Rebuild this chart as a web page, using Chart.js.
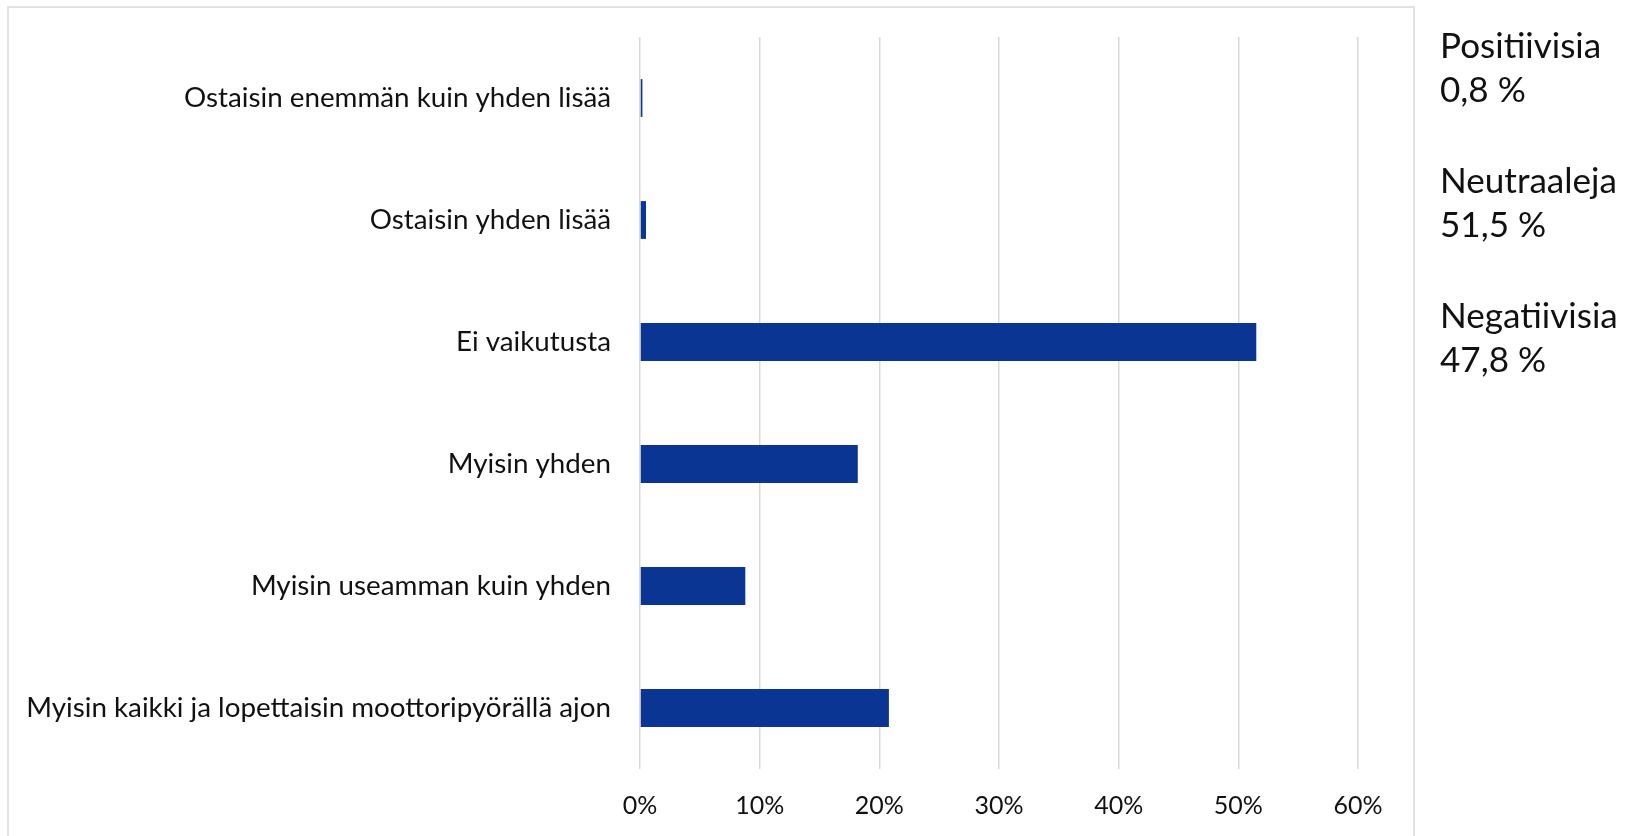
<!DOCTYPE html>
<html>
<head>
<meta charset="utf-8">
<script src="https://cdn.jsdelivr.net/npm/chart.js@4.4.1/dist/chart.umd.min.js"></script>
<style>
  html, body { margin: 0; padding: 0; background: #ffffff; }
  #wrap { width: 1634px; height: 836px; position: relative; }
</style>
</head>
<body>
<div id="wrap"><canvas id="c" width="1634" height="836"></canvas></div>
<script>
// ---- data ----
const categories = [
  'Ostaisin enemmän kuin yhden lisää',
  'Ostaisin yhden lisää',
  'Ei vaikutusta',
  'Myisin yhden',
  'Myisin useamman kuin yhden',
  'Myisin kaikki ja lopettaisin moottoripyörällä ajon'
];
const values = [0.2, 0.5, 51.5, 18.2, 8.8, 20.8];
const xTickValues = [0, 10, 20, 30, 40, 50, 60];
const xTickLabels = ['0%', '10%', '20%', '30%', '40%', '50%', '60%'];
const summaryLabels = ['Positiivisia', 'Neutraaleja', 'Negatiivisia'];
const summaryValues = ['0,8 %', '51,5 %', '47,8 %'];

// ---- styles ----
const FONT = 'Lato, "Open Sans", sans-serif';
const BAR_COLOR = '#0a3593';
const GRID_COLOR = '#d9d9d9';
const TEXT_COLOR = '#111111';

// fit font sizes to reference text widths
const mctx = document.createElement('canvas').getContext('2d');
function fitSize(text, targetWidth) {
  mctx.font = '100px ' + FONT;
  return 100 * targetWidth / mctx.measureText(text).width;
}
const catFontSize = fitSize(categories[5], 585);
const sumFontSize = fitSize(summaryLabels[1], 177);

const borderPlugin = {
  id: 'outerBorder',
  afterDraw(chart) {
    const ctx = chart.ctx;
    ctx.save();
    ctx.strokeStyle = GRID_COLOR;
    ctx.lineWidth = 1.5;
    ctx.strokeRect(8, 7, 1406, 840);
    ctx.restore();
  }
};

const summaryPlugin = {
  id: 'summaryText',
  afterDraw(chart) {
    const ctx = chart.ctx;
    ctx.save();
    ctx.fillStyle = TEXT_COLOR;
    ctx.font = sumFontSize.toFixed(1) + 'px ' + FONT;
    ctx.textAlign = 'left';
    ctx.textBaseline = 'middle';
    const x = 1440;
    summaryLabels.forEach((lab, i) => {
      const y = 47 + i * 135;
      ctx.fillText(lab, x, y);
      ctx.fillText(summaryValues[i], x, y + 44);
    });
    ctx.restore();
  }
};

new Chart(document.getElementById('c'), {
  type: 'bar',
  data: {
    labels: categories,
    datasets: [{
      data: values,
      backgroundColor: BAR_COLOR,
      borderWidth: 0,
      categoryPercentage: 1,
      barPercentage: 0.31
    }]
  },
  options: {
    indexAxis: 'y',
    responsive: false,
    animation: false,
    devicePixelRatio: 1,
    layout: { padding: { left: 0, top: 37, right: 276, bottom: 0 } },
    plugins: {
      legend: { display: false },
      tooltip: { enabled: false }
    },
    scales: {
      x: {
        min: 0,
        max: 60,
        afterFit(scale) { scale.height = 67; scale.paddingLeft = 0; scale.paddingRight = 0; },
        afterBuildTicks(scale) {
          scale.ticks = xTickValues.map(v => ({ value: v }));
        },
        grid: { color: GRID_COLOR, lineWidth: 1.5, drawTicks: false },
        border: { display: false },
        ticks: {
          padding: 22,
          color: TEXT_COLOR,
          font: { family: FONT, size: 25 },
          callback: (v) => xTickLabels[xTickValues.indexOf(v)]
        }
      },
      y: {
        afterFit(scale) { scale.width = 640; scale.paddingTop = 0; scale.paddingBottom = 0; },
        grid: { display: false, drawTicks: false },
        border: { display: false },
        ticks: {
          padding: 29,
          color: TEXT_COLOR,
          font: { family: FONT, size: catFontSize }
        }
      }
    }
  },
  plugins: [borderPlugin, summaryPlugin]
});
</script>
</body>
</html>
